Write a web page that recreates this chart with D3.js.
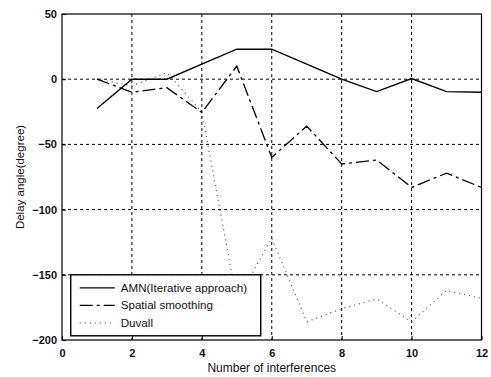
<!DOCTYPE html>
<html>
<head>
<meta charset="utf-8">
<script src="https://cdn.jsdelivr.net/npm/d3@7"></script>
<style>
  body { margin: 0; background: #fff; }
  svg text { font-family: "Liberation Sans", Arial, sans-serif; fill: #111; }
</style>
</head>
<body>
<div id="chart"></div>
<script>
const interferences = [1, 2, 3, 4, 5, 6, 7, 8, 9, 10, 11, 12];
const amnValues = [-22.5, 0, 0, 11.5, 23, 23, 11.5, 0, -9.5, 0.5, -9.5, -10];
const smoothingValues = [0, -10, -6.5, -25.5, 10, -60, -36, -65, -62, -83, -72, -83];
const duvallValues = [0, -5, 5, -25, -170, -122, -186, -176, -168.5, -186, -162, -168];
const xTicks = [0, 2, 4, 6, 8, 10, 12];
const yTicks = [50, 0, -50, -100, -150, -200];
const seriesNames = ["AMN(Iterative approach)", "Spatial smoothing", "Duvall"];

const width = 491, height = 377;
const margin = { top: 14, right: 9.5, bottom: 37, left: 62 };
const w = width - margin.left - margin.right;
const h = height - margin.top - margin.bottom;

const svg = d3.select("#chart").append("svg")
    .attr("width", width)
    .attr("height", height);

const g = svg.append("g")
    .attr("transform", `translate(${margin.left}, ${margin.top})`);

const x = d3.scaleLinear().domain([0, 12]).range([0, w]);
const y = d3.scaleLinear().domain([-200, 50]).range([h, 0]);

// grid
g.selectAll("line.vgrid")
    .data(xTicks.filter(d => d > 0 && d < 12))
    .enter().append("line")
    .attr("class", "vgrid")
    .attr("x1", d => x(d)).attr("x2", d => x(d))
    .attr("y1", 0).attr("y2", h)
    .attr("stroke", "#000")
    .attr("stroke-width", 1)
    .attr("stroke-dasharray", "3,3");

g.selectAll("line.hgrid")
    .data(yTicks.filter(d => d > -200 && d < 50))
    .enter().append("line")
    .attr("class", "hgrid")
    .attr("x1", 0).attr("x2", w)
    .attr("y1", d => y(d)).attr("y2", d => y(d))
    .attr("stroke", "#000")
    .attr("stroke-width", 1)
    .attr("stroke-dasharray", "3,3");

// axes
const xAxis = g.append("g")
    .attr("transform", `translate(0, ${h})`)
    .call(d3.axisBottom(x).tickValues(xTicks).tickSize(-4).tickPadding(9));
const yAxis = g.append("g")
    .call(d3.axisLeft(y).tickValues(yTicks).tickSize(-4).tickPadding(5));

[xAxis, yAxis].forEach(a => {
    a.select(".domain").remove();
    a.selectAll("line").attr("stroke", "#000");
    a.selectAll("text").attr("font-size", "11px").attr("font-weight", "bold").style("fill", "#111");
});

g.append("rect")
    .attr("width", w).attr("height", h)
    .attr("fill", "none")
    .attr("stroke", "#000")
    .attr("stroke-width", 1.2);

// series
const line = d3.line()
    .x((d, i) => x(interferences[i]))
    .y(d => y(d));

g.append("path")
    .datum(duvallValues)
    .attr("fill", "none")
    .attr("stroke", "#555")
    .attr("stroke-width", 1.2)
    .attr("stroke-dasharray", "1,4")
    .attr("d", line);

g.append("path")
    .datum(smoothingValues)
    .attr("fill", "none")
    .attr("stroke", "#000")
    .attr("stroke-width", 1.3)
    .attr("stroke-dasharray", "13,4,3,4")
    .attr("d", line);

g.append("path")
    .datum(amnValues)
    .attr("fill", "none")
    .attr("stroke", "#000")
    .attr("stroke-width", 1.4)
    .attr("d", line);

// legend
const legend = g.append("g")
    .attr("transform", `translate(${x(0.25)}, ${y(-150)})`);

legend.append("rect")
    .attr("width", 190).attr("height", 61)
    .attr("fill", "#fff")
    .attr("stroke", "#000")
    .attr("stroke-width", 1.4);

const legendStyles = [
    { dash: null, color: "#000" },
    { dash: "13,4,3,4", color: "#000" },
    { dash: "1,4", color: "#555" }
];

seriesNames.forEach((name, i) => {
    const ly = 13 + i * 17.5;
    legend.append("line")
        .attr("x1", 9).attr("x2", 44)
        .attr("y1", ly).attr("y2", ly)
        .attr("stroke", legendStyles[i].color)
        .attr("stroke-width", 1.2)
        .attr("stroke-dasharray", legendStyles[i].dash);
    legend.append("text")
        .attr("x", 50).attr("y", ly + 4)
        .attr("font-size", "11.6px")
        .text(name);
});

// axis titles
svg.append("text")
    .attr("x", margin.left + w / 2)
    .attr("y", 372)
    .attr("text-anchor", "middle")
    .attr("font-size", "12px")
    .text("Number of interferences");

svg.append("text")
    .attr("transform", `translate(24, ${margin.top + h / 2}) rotate(-90)`)
    .attr("text-anchor", "middle")
    .attr("font-size", "11.5px")
    .text("Delay angle(degree)");
</script>
</body>
</html>
